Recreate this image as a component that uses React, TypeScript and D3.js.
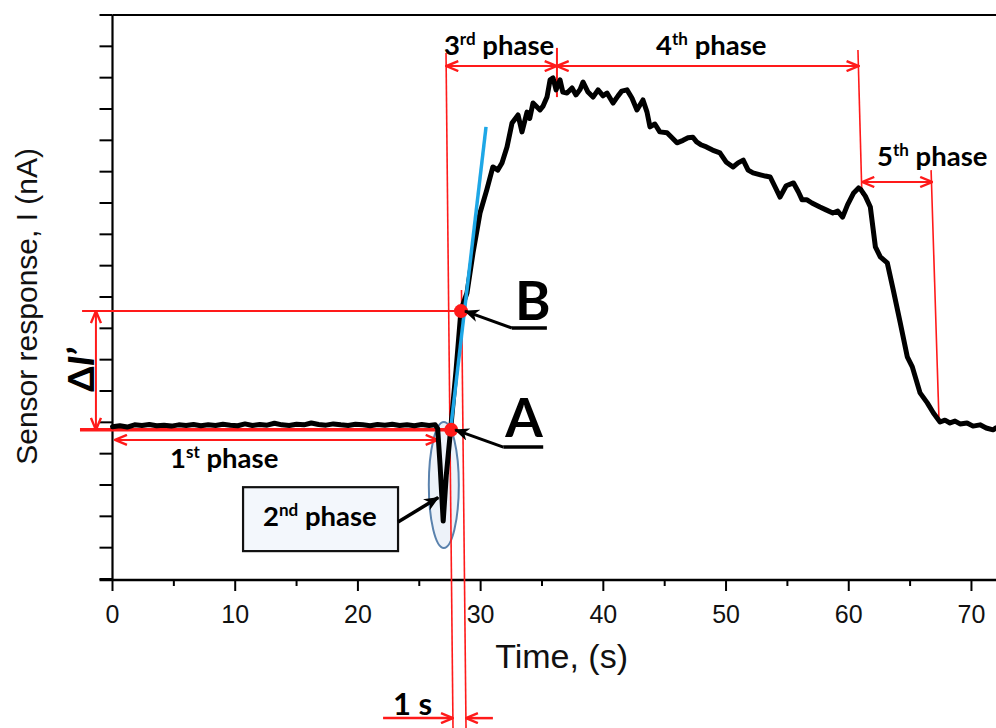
import React from 'react';
import * as d3 from 'd3';

// ---- data ----
const TIME_S = [
  0, 0.6, 1.2, 1.8, 2.4, 3.0, 3.6, 4.2, 4.8, 5.4, 6.0, 6.6, 7.2, 7.8, 8.4, 9.0, 9.6, 10.2, 10.8, 11.4,
  12.0, 12.6, 13.2, 13.8, 14.4, 15.0, 15.6, 16.2, 16.8, 17.4, 18.0, 18.6, 19.2, 19.8, 20.4, 21.0, 21.6,
  22.2, 22.8, 23.4, 24.0, 24.6, 25.2, 25.8, 26.3,
  26.5, 26.7, 26.95, 27.2, 27.55, 28.0, 28.4, 28.89, 29.38, 29.95, 30.5, 31.0, 31.4, 31.74, 32.15, 32.56,
  33.05, 33.37, 33.78, 34.0, 34.27, 34.84, 35.1, 35.41, 35.66, 35.9, 36.15, 36.47, 36.7, 37.04, 37.45, 37.77,
  38.1, 38.35, 38.75, 39.16, 39.57, 39.98, 40.3, 40.79, 41.2, 41.5, 41.93, 42.33, 42.74, 43.23, 43.56,
  43.8, 44.2, 44.6, 45.19, 45.6, 46.0, 46.5, 46.9, 47.3, 47.6, 48.0, 48.4, 48.9, 49.5, 50.0, 50.57,
  50.98, 51.4, 51.8, 52.2, 52.8, 53.2, 53.6, 54.0, 54.4, 54.9, 55.5, 55.9, 56.2, 56.6, 57.0, 57.65,
  58.15, 58.7, 59.1, 59.5, 59.9, 60.4, 60.8, 61.0, 61.35, 61.76, 62.17, 62.57, 63.14, 63.63, 64.2,
  64.77, 65.18, 65.81, 66.4, 66.9, 67.44, 67.84, 68.25, 68.66, 69.07, 69.64, 70.13, 70.7, 71.2,
  71.76, 72,
];
const CURRENT_NA = [
  4.86, 4.89, 4.85, 4.92, 4.90, 4.93, 4.89, 4.91, 4.88, 4.92, 4.90, 4.93, 4.89, 4.92, 4.90, 4.94,
  4.91, 4.89, 4.95, 4.90, 4.93, 4.91, 4.97, 4.92, 4.90, 4.94, 4.92, 4.98, 4.93, 4.91, 4.95, 4.92,
  4.90, 4.94, 4.92, 4.89, 4.93, 4.91, 4.94, 4.90, 4.92, 4.89, 4.93, 4.90, 4.92,
  4.80, 3.6, 1.85, 3.3, 4.75, 6.67, 8.59, 9.13, 10.41, 11.68, 12.42, 13.15, 13.05, 13.28, 13.79, 14.55,
  14.81, 14.27, 14.9, 14.7, 15.19, 14.97, 15.1, 15.38, 15.93, 15.99, 15.61, 15.93, 15.54, 15.51, 15.67, 15.45,
  15.62, 15.86, 15.54, 15.38, 15.61, 15.42, 15.51, 15.19, 15.42, 15.57, 15.61, 15.35, 14.97, 15.29, 14.9,
  14.43, 14.52, 14.27, 14.24, 14.08, 13.92, 14.0, 14.08, 14.1, 13.95, 13.85, 13.79, 13.69, 13.6,
  13.31, 13.15, 13.28, 13.37, 13.05, 12.96, 12.9, 12.86, 12.83, 12.51, 12.19, 12.55, 12.64, 12.35,
  12.1, 12.1, 12.0, 11.87, 11.78, 11.68, 11.74, 11.55, 11.94, 12.32, 12.48, 12.42, 12.22, 11.87,
  10.6, 10.28, 10.09, 9.22, 8.17, 7.09, 6.77, 5.94, 5.62, 5.3, 5.01, 5.07, 4.98, 5.04, 4.95, 4.98,
  4.88, 4.92, 4.82, 4.76, 4.82,
];
const X_MAJOR_TICKS = [0, 10, 20, 30, 40, 50, 60, 70];
const X_MINOR_TICKS = [5, 15, 25, 35, 45, 55, 65];
const Y_TICKS = d3.range(0, 19);

// annotation anchors (data units)
const POINT_A = [27.6, 4.76];
const POINT_B = [28.4, 8.55];
const TANGENT = [[27.5, 4.6], [30.44, 14.43]];
const PHASE_T = { p1Start: 0.2, p1End: 26.5, p3Start: 27.2, p3End: 36.2, p4End: 60.8, p5Start: 61.1, p5End: 66.8 };

const W = 996, H = 728;
const x = d3.scaleLinear().domain([0, 72]).range([112.5, 996]);
const y = d3.scaleLinear().domain([0, 18]).range([579, 15]);

const RED = '#ff1a1a';
const ANN_FONT = 'Lato, "Open Sans", sans-serif';
const AX_FONT = '"Liberation Sans", Arial, sans-serif';
const PF = 27.5;

function Sup({ base, sup, rest, size }: { base: string; sup: string; rest: string; size: number }) {
  return (
    <>
      <tspan>{base}</tspan>
      <tspan fontSize={size * 0.62} dy={-size * 0.38}>{sup}</tspan>
      <tspan dy={size * 0.38}>{rest}</tspan>
    </>
  );
}

export default function App() {
  const pts: [number, number][] = TIME_S.map((t, i) => [t, CURRENT_NA[i]]);
  const line = d3.line<[number, number]>().x(d => x(d[0])).y(d => y(d[1]));

  const vLine = (t1: number, v1: number, t2: number, v2: number, w = 1.6) => (
    <line x1={x(t1)} y1={y(v1)} x2={x(t2)} y2={y(v2)} stroke={RED} strokeWidth={w} />
  );
  const dblArrow = (t1: number, t2: number, v: number) => (
    <line x1={x(t1)} y1={y(v)} x2={x(t2)} y2={y(v)} stroke={RED} strokeWidth={2}
      markerStart="url(#redHead)" markerEnd="url(#redHead)" />
  );

  const fs = 25;
  return (
    <svg width={W} height={H} style={{ position: 'absolute', left: 0, top: 0, background: '#fff' }}>
      <defs>
        <marker id="redHead" viewBox="0 0 14 12" refX="13" refY="6" markerWidth="14" markerHeight="12"
          markerUnits="userSpaceOnUse" orient="auto-start-reverse">
          <path d="M1,1 L13,6 L1,11" fill="none" stroke={RED} strokeWidth="2.4" />
        </marker>
        <marker id="blackHead" viewBox="0 0 14 12" refX="13" refY="6" markerWidth="15" markerHeight="13"
          markerUnits="userSpaceOnUse" orient="auto">
          <path d="M0,0 L14,6 L0,12 L4,6 Z" fill="#000" />
        </marker>
      </defs>

      {/* frame top */}
      <line x1={x(0)} y1={y(18)} x2={W} y2={y(18)} stroke="#000" strokeWidth={2} />
      {/* y axis */}
      <line x1={x(0)} y1={y(18)} x2={x(0)} y2={y(0) + 1} stroke="#000" strokeWidth={2.2} />
      {Y_TICKS.map(v => (
        <line key={'yt' + v} x1={x(0) - 13} x2={x(0)} y1={y(v)} y2={y(v)} stroke="#000" strokeWidth={2} />
      ))}
      {/* x axis */}
      <line x1={x(0) - 13} y1={y(0) + 1} x2={W} y2={y(0) + 1} stroke="#000" strokeWidth={2.5} />
      {X_MAJOR_TICKS.map(t => (
        <g key={'xt' + t}>
          <line x1={x(t)} x2={x(t)} y1={y(0)} y2={y(0) + 12} stroke="#000" strokeWidth={2} />
          <text x={x(t)} y={y(0) + 44} textAnchor="middle" fontFamily={AX_FONT} fontSize={fs} fill="#111">{t}</text>
        </g>
      ))}
      {X_MINOR_TICKS.map(t => (
        <line key={'xm' + t} x1={x(t)} x2={x(t)} y1={y(0)} y2={y(0) + 7} stroke="#000" strokeWidth={2} />
      ))}
      <text x={x(36.6)} y={668} textAnchor="middle" fontFamily={AX_FONT} fontSize={34} fill="#111">Time, (s)</text>
      <text transform={`translate(37,${y(8.7)}) rotate(-90)`} textAnchor="middle" fontFamily={AX_FONT}
        fontSize={30} fill="#111">Sensor response, I (nA)</text>

      {/* ellipse around 2nd phase */}
      <ellipse cx={x(27.0)} cy={y(3.0)} rx={15} ry={63} fill="#e6edf6" fillOpacity={0.7} stroke="#5a82ad" strokeWidth={2} />

      {/* red guide lines */}
      {vLine(-2.48, POINT_B[1], POINT_B[0], POINT_B[1], 2)}
      {vLine(-2.65, POINT_A[1], POINT_A[0], POINT_A[1], 3.5)}
      <line x1={x(-1.35)} y1={y(POINT_B[1])} x2={x(-1.35)} y2={y(POINT_A[1])} stroke={RED} strokeWidth={2}
        markerStart="url(#redHead)" markerEnd="url(#redHead)" />
      {vLine(27.18, 16.79, 27.75, -4.76)}
      {vLine(28.44, 9.22, 28.81, -4.76)}
      {dblArrow(PHASE_T.p1Start, PHASE_T.p1End, 4.44)}
      {dblArrow(PHASE_T.p3Start, PHASE_T.p3End, 16.37)}
      {dblArrow(PHASE_T.p3End, PHASE_T.p4End, 16.37)}
      {vLine(36.22, 16.95, 36.22, 15.38, 2)}
      {vLine(60.75, 16.88, 61.07, 12.26)}
      {dblArrow(PHASE_T.p5Start, PHASE_T.p5End, 12.67)}
      {vLine(66.71, 13.05, 67.36, 4.98)}
      {/* 1 s arrows */}
      <line x1={x(22.05)} y1={y(-4.44)} x2={x(27.75)} y2={y(-4.44)} stroke={RED} strokeWidth={2.5} markerEnd="url(#redHead)" />
      <line x1={x(31.0)} y1={y(-4.44)} x2={x(28.8)} y2={y(-4.44)} stroke={RED} strokeWidth={2.5} markerEnd="url(#redHead)" />

      {/* signal */}
      <path d={line(pts) || ''} fill="none" stroke="#000" strokeWidth={5} strokeLinejoin="round" strokeLinecap="round" />

      {/* tangent */}
      <line x1={x(TANGENT[0][0])} y1={y(TANGENT[0][1])} x2={x(TANGENT[1][0])} y2={y(TANGENT[1][1])}
        stroke="#1ea7e6" strokeWidth={3.5} />

      {/* points A and B */}
      <circle cx={x(POINT_A[0])} cy={y(POINT_A[1])} r={7} fill={RED} />
      <circle cx={x(POINT_B[0])} cy={y(POINT_B[1])} r={7} fill={RED} />

      {/* A label */}
      <text x={x(32.0)} y={y(4.53)} fontFamily={ANN_FONT} fontWeight={700} fontSize={54} fill="#000">A</text>
      <line x1={x(31.85)} y1={y(4.21)} x2={x(35.1)} y2={y(4.21)} stroke="#000" strokeWidth={3.5} />
      <line x1={x(31.85)} y1={y(4.21)} x2={x(POINT_A[0]) + 4} y2={y(POINT_A[1])} stroke="#000" strokeWidth={3}
        markerEnd="url(#blackHead)" />
      {/* B label */}
      <text x={x(32.8)} y={y(8.27)} fontFamily={ANN_FONT} fontWeight={700} fontSize={54} fill="#000">B</text>
      <line x1={x(32.55)} y1={y(8.01)} x2={x(35.4)} y2={y(8.01)} stroke="#000" strokeWidth={3.5} />
      <line x1={x(32.55)} y1={y(8.01)} x2={x(POINT_B[0]) + 4} y2={y(POINT_B[1])} stroke="#000" strokeWidth={3}
        markerEnd="url(#blackHead)" />

      {/* 2nd phase box */}
      <rect x={x(10.64)} y={y(2.93)} width={x(23.27) - x(10.64)} height={y(0.89) - y(2.93)}
        fill="#f3f7fc" stroke="#111" strokeWidth={2.2} />
      <text x={x(16.9)} y={y(1.69)} textAnchor="middle" fontFamily={ANN_FONT} fontWeight={700} fontSize={PF} fill="#000">
        <Sup base="2" sup="nd" rest=" phase" size={PF} />
      </text>
      <line x1={x(23.27)} y1={y(1.82)} x2={x(26.55)} y2={y(2.6)} stroke="#000" strokeWidth={3.5} markerEnd="url(#blackHead)" />

      {/* phase labels */}
      <text x={x(9.1)} y={y(3.54)} textAnchor="middle" fontFamily={ANN_FONT} fontWeight={700} fontSize={PF} fill="#000">
        <Sup base="1" sup="st" rest=" phase" size={PF} />
      </text>
      <text x={x(31.5)} y={y(16.72)} textAnchor="middle" fontFamily={ANN_FONT} fontWeight={700} fontSize={PF} fill="#000">
        <Sup base="3" sup="rd" rest=" phase" size={PF} />
      </text>
      <text x={x(48.8)} y={y(16.72)} textAnchor="middle" fontFamily={ANN_FONT} fontWeight={700} fontSize={PF} fill="#000">
        <Sup base="4" sup="th" rest=" phase" size={PF} />
      </text>
      <text x={x(62.3)} y={y(13.18)} fontFamily={ANN_FONT} fontWeight={700} fontSize={PF} fill="#000">
        <Sup base="5" sup="th" rest=" phase" size={PF} />
      </text>

      {/* ΔI' */}
      <text transform={`translate(${x(-2.55)},${y(6.67)}) rotate(-90)`} textAnchor="middle" dy="0.35em"
        fontFamily={ANN_FONT} fontWeight={900} fontSize={36} fill="#000">
        Δ<tspan fontStyle="italic">I’</tspan>
      </text>

      {/* 1 s */}
      <text x={x(22.86)} y={y(-4.34)} fontFamily={ANN_FONT} fontWeight={700} fontSize={31} fill="#000">1 s</text>
    </svg>
  );
}
